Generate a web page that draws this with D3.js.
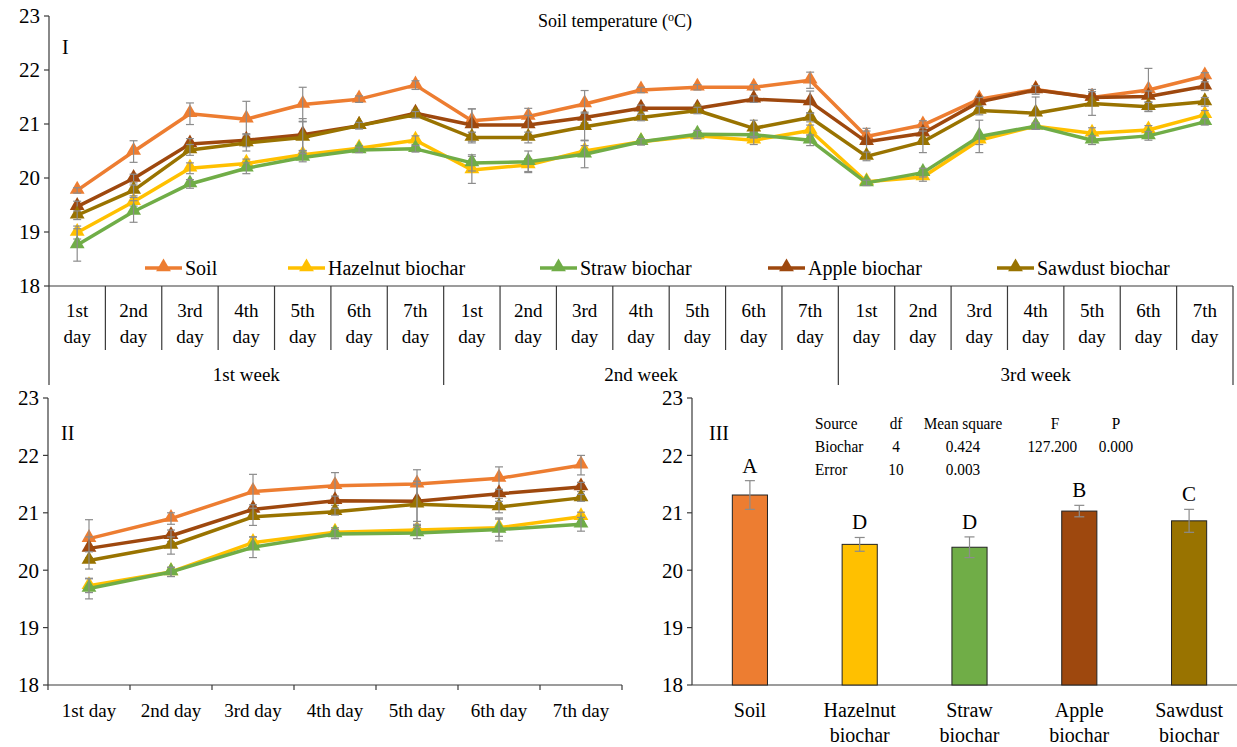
<!DOCTYPE html>
<html>
<head>
<meta charset="utf-8">
<script src="https://cdn.jsdelivr.net/npm/d3@7"></script>
<style>
  body { margin: 0; background: #fff; }
  svg text { font-family: "Liberation Serif", "Times New Roman", "DejaVu Serif", serif; }
</style>
</head>
<body>
<svg id="chart" width="1237" height="747" font-family="Liberation Serif, Times New Roman, serif"></svg>
<script>
// ---- data ----
const series = ["Soil", "Hazelnut biochar", "Straw biochar", "Apple biochar", "Sawdust biochar"];
const colors = ["#ED7D31", "#FFC000", "#70AD47", "#9E480E", "#997300"];
const days = ["1st day", "2nd day", "3rd day", "4th day", "5th day", "6th day", "7th day"];
const weeks = ["1st week", "2nd week", "3rd week"];

// panel I : 21 daily values (3 weeks x 7 days)
const soilDaily     = [19.77, 20.49, 21.19, 21.09, 21.36, 21.46, 21.72, 21.06, 21.14, 21.37, 21.63, 21.68, 21.68, 21.81, 20.77, 20.98, 21.46, 21.64, 21.49, 21.63, 21.89];
const hazelnutDaily = [18.99, 19.56, 20.18, 20.27, 20.43, 20.55, 20.70, 20.15, 20.24, 20.50, 20.67, 20.78, 20.70, 20.88, 19.93, 20.02, 20.70, 20.96, 20.83, 20.89, 21.17];
const strawDaily    = [18.76, 19.38, 19.89, 20.18, 20.38, 20.52, 20.54, 20.28, 20.30, 20.44, 20.67, 20.81, 20.80, 20.70, 19.91, 20.10, 20.77, 20.96, 20.70, 20.78, 21.04];
const appleDaily    = [19.47, 19.99, 20.63, 20.70, 20.80, 20.97, 21.20, 20.98, 20.98, 21.12, 21.29, 21.29, 21.46, 21.41, 20.67, 20.83, 21.41, 21.63, 21.49, 21.51, 21.70];
const sawdustDaily  = [19.31, 19.77, 20.52, 20.65, 20.75, 20.97, 21.17, 20.75, 20.75, 20.95, 21.12, 21.25, 20.92, 21.12, 20.40, 20.67, 21.25, 21.20, 21.38, 21.32, 21.41];

const soilDailyErr     = [0.05, 0.2, 0.2, 0.33, 0.32, 0.06, 0.08, 0.22, 0.15, 0.25, 0.05, 0.05, 0.05, 0.15, 0.15, 0.08, 0.05, 0.06, 0.08, 0.4, 0.06];
const hazelnutDailyErr = [0.12, 0.08, 0.1, 0.08, 0.08, 0.05, 0.08, 0.25, 0.12, 0.1, 0.05, 0.05, 0.08, 0.1, 0.05, 0.08, 0.08, 0.05, 0.1, 0.08, 0.08];
const strawDailyErr    = [0.3, 0.2, 0.08, 0.1, 0.08, 0.05, 0.06, 0.15, 0.2, 0.25, 0.06, 0.07, 0.06, 0.1, 0.05, 0.08, 0.3, 0.06, 0.08, 0.08, 0.06];
const appleDailyErr    = [0.1, 0.08, 0.1, 0.12, 0.3, 0.06, 0.06, 0.3, 0.18, 0.1, 0.06, 0.06, 0.06, 0.2, 0.2, 0.1, 0.08, 0.08, 0.15, 0.1, 0.08];
const sawdustDailyErr  = [0.08, 0.1, 0.1, 0.15, 0.3, 0.06, 0.06, 0.1, 0.1, 0.25, 0.06, 0.06, 0.15, 0.08, 0.08, 0.2, 0.08, 0.3, 0.22, 0.08, 0.08];

// panel II : mean of the three weeks per day
const soilMean     = [20.55, 20.90, 21.37, 21.47, 21.50, 21.60, 21.83];
const hazelnutMean = [19.73, 19.97, 20.48, 20.66, 20.70, 20.74, 20.93];
const strawMean    = [19.68, 19.97, 20.40, 20.63, 20.65, 20.71, 20.80];
const appleMean    = [20.38, 20.60, 21.06, 21.21, 21.20, 21.33, 21.45];
const sawdustMean  = [20.17, 20.43, 20.93, 21.02, 21.15, 21.10, 21.26];

const soilMeanErr     = [0.33, 0.1, 0.3, 0.23, 0.25, 0.2, 0.17];
const hazelnutMeanErr = [0.12, 0.08, 0.1, 0.08, 0.08, 0.15, 0.08];
const strawMeanErr    = [0.18, 0.08, 0.18, 0.08, 0.1, 0.2, 0.12];
const appleMeanErr    = [0.2, 0.1, 0.08, 0.08, 0.35, 0.08, 0.08];
const sawdustMeanErr  = [0.15, 0.15, 0.15, 0.06, 0.35, 0.1, 0.06];

// panel III : overall means
const barLabels = [["Soil"], ["Hazelnut", "biochar"], ["Straw", "biochar"], ["Apple", "biochar"], ["Sawdust", "biochar"]];
const barValues = [21.31, 20.45, 20.40, 21.03, 20.86];
const barErr    = [0.25, 0.12, 0.18, 0.10, 0.20];
const barLetters = ["A", "D", "D", "B", "C"];

const anovaHeader = ["Source", "df", "Mean square", "F", "P"];
const anovaRows = [["Biochar", "4", "0.424", "127.200", "0.000"], ["Error", "10", "0.003", "", ""]];

const yTicks = [18, 19, 20, 21, 22, 23];

const dailySets = [soilDaily, hazelnutDaily, strawDaily, appleDaily, sawdustDaily];
const dailyErrs = [soilDailyErr, hazelnutDailyErr, strawDailyErr, appleDailyErr, sawdustDailyErr];
const meanSets = [soilMean, hazelnutMean, strawMean, appleMean, sawdustMean];
const meanErrs = [soilMeanErr, hazelnutMeanErr, strawMeanErr, appleMeanErr, sawdustMeanErr];

const svg = d3.select("#chart");
const axisColor = "#3a3a3a";
const errColor = "#8c8c8c";
const FONT = "Liberation Serif";

function yAxis(g, y, x0) {
  g.append("line").attr("x1", x0).attr("x2", x0)
    .attr("y1", y(23)).attr("y2", y(18)).attr("stroke", axisColor).attr("stroke-width", 1.2);
  yTicks.forEach(t => {
    g.append("line").attr("x1", x0 - 5).attr("x2", x0).attr("y1", y(t)).attr("y2", y(t))
      .attr("stroke", axisColor).attr("stroke-width", 1.2);
    g.append("text").attr("x", x0 - 9).attr("y", y(t)).attr("dy", "0.35em")
      .attr("text-anchor", "end").attr("font-family", FONT).attr("font-size", 21).text(t);
  });
}

function drawSeries(g, x, y, sets, errs) {
  const tri = d3.symbol().type(d3.symbolTriangle).size(95);
  sets.forEach((vals, s) => {
    const pts = vals.map((v, i) => ({ i, v, e: errs[s][i] }));
    g.append("path").datum(pts)
      .attr("fill", "none").attr("stroke", colors[s]).attr("stroke-width", 3.5)
      .attr("stroke-linejoin", "round")
      .attr("d", d3.line().x(d => x(d.i)).y(d => y(d.v)));
    g.selectAll(null).data(pts).enter().append("path")
      .attr("d", tri).attr("fill", colors[s])
      .attr("transform", d => `translate(${x(d.i)},${y(d.v) - 1})`);
    const eb = g.selectAll(null).data(pts).enter().append("g")
      .attr("stroke", errColor).attr("stroke-width", 1.2);
    eb.append("line").attr("x1", d => x(d.i)).attr("x2", d => x(d.i))
      .attr("y1", d => y(d.v + d.e)).attr("y2", d => y(d.v - d.e));
    eb.append("line").attr("x1", d => x(d.i) - 4).attr("x2", d => x(d.i) + 4)
      .attr("y1", d => y(d.v + d.e)).attr("y2", d => y(d.v + d.e));
    eb.append("line").attr("x1", d => x(d.i) - 4).attr("x2", d => x(d.i) + 4)
      .attr("y1", d => y(d.v - d.e)).attr("y2", d => y(d.v - d.e));
  });
}

function txt(g, x, y, s, size, anchor) {
  return g.append("text").attr("x", x).attr("y", y).attr("text-anchor", anchor || "start")
    .attr("font-family", FONT).attr("font-size", size).text(s);
}

// ---------- Panel I ----------
const p1 = svg.append("g");
const x1 = d3.scaleBand().domain(d3.range(21)).range([49, 1233]);
const xc1 = i => x1(i) + x1.bandwidth() / 2;
const y1 = d3.scaleLinear().domain([18, 23]).range([286, 16]);

yAxis(p1, y1, 49);
p1.append("line").attr("x1", 49).attr("x2", 1233).attr("y1", y1(18)).attr("y2", y1(18))
  .attr("stroke", axisColor).attr("stroke-width", 1.2);

// multi-level category axis
d3.range(22).forEach(i => {
  const xx = i < 21 ? x1(i) : 1233;
  const isWeek = i % 7 === 0;
  p1.append("line").attr("x1", xx).attr("x2", xx).attr("y1", 286).attr("y2", isWeek ? 385 : 350)
    .attr("stroke", axisColor).attr("stroke-width", 1.2);
});
d3.range(21).forEach(i => {
  const parts = days[i % 7].split(" ");
  txt(p1, xc1(i), 317, parts[0], 19, "middle");
  txt(p1, xc1(i), 343, parts[1], 19, "middle");
});
weeks.forEach((w, k) => {
  const cx = (x1(k * 7) + x1(k * 7 + 6) + x1.bandwidth()) / 2;
  txt(p1, cx, 381, w, 19, "middle");
});

const title = txt(p1, 615, 27, "", 18, "middle");
title.append("tspan").text("Soil temperature (");
title.append("tspan").attr("font-size", 12).attr("dy", -6).text("o");
title.append("tspan").attr("dy", 6).text("C)");
txt(p1, 62, 54, "I", 20);

drawSeries(p1, xc1, y1, dailySets, dailyErrs);

// legend
const legX = [145, 288, 540, 768, 997];
const tri = d3.symbol().type(d3.symbolTriangle).size(95);
series.forEach((s, k) => {
  const lg = p1.append("g").attr("transform", `translate(${legX[k]},268)`);
  lg.append("line").attr("x1", 0).attr("x2", 37).attr("stroke", colors[k]).attr("stroke-width", 3.5);
  lg.append("path").attr("d", tri).attr("fill", colors[k]).attr("transform", "translate(18.5,-1)");
  txt(lg, 40, 0, s, 20).attr("dy", "0.35em");
});

// ---------- Panel II ----------
const p2 = svg.append("g");
const x2 = d3.scaleBand().domain(d3.range(7)).range([48, 622]);
const xc2 = i => x2(i) + x2.bandwidth() / 2;
const y2 = d3.scaleLinear().domain([18, 23]).range([685, 398]);

yAxis(p2, y2, 48);
p2.append("line").attr("x1", 48).attr("x2", 622).attr("y1", y2(18)).attr("y2", y2(18))
  .attr("stroke", axisColor).attr("stroke-width", 1.2);
d3.range(8).forEach(i => {
  const xx = i < 7 ? x2(i) : 622;
  p2.append("line").attr("x1", xx).attr("x2", xx).attr("y1", 685).attr("y2", 690)
    .attr("stroke", axisColor).attr("stroke-width", 1.2);
});
days.forEach((d, i) => txt(p2, xc2(i), 717, d, 19, "middle"));
txt(p2, 61, 440, "II", 20);

drawSeries(p2, xc2, y2, meanSets, meanErrs);

// ---------- Panel III ----------
const p3 = svg.append("g");
const x3 = d3.scaleBand().domain(d3.range(5)).range([695, 1244]).paddingInner(0.68).paddingOuter(0.34);
const y3 = y2;

yAxis(p3, y3, 692);
p3.append("line").attr("x1", 692).attr("x2", 1237).attr("y1", y3(18)).attr("y2", y3(18))
  .attr("stroke", axisColor).attr("stroke-width", 1.2);

p3.selectAll(null).data(barValues).enter().append("rect")
  .attr("x", (d, i) => x3(i)).attr("width", x3.bandwidth())
  .attr("y", d => y3(d)).attr("height", d => y3(18) - y3(d))
  .attr("fill", (d, i) => colors[i]).attr("stroke", "#222").attr("stroke-width", 1);

barValues.forEach((v, i) => {
  const cx = x3(i) + x3.bandwidth() / 2;
  const e = barErr[i];
  const g = p3.append("g").attr("stroke", errColor).attr("stroke-width", 1.2);
  g.append("line").attr("x1", cx).attr("x2", cx).attr("y1", y3(v + e)).attr("y2", y3(v - e));
  g.append("line").attr("x1", cx - 5).attr("x2", cx + 5).attr("y1", y3(v + e)).attr("y2", y3(v + e));
  g.append("line").attr("x1", cx - 5).attr("x2", cx + 5).attr("y1", y3(v - e)).attr("y2", y3(v - e));
  txt(p3, cx, y3(v + e) - 8, barLetters[i], 21, "middle");
  barLabels[i].forEach((t, j) => txt(p3, cx, 717 + j * 25, t, 20, "middle"));
});
txt(p3, 709, 440, "III", 20);

// ANOVA table
const colX = [815, 896, 963, 1055, 1116];
const colAnchor = ["start", "middle", "middle", "middle", "middle"];
[anovaHeader, ...anovaRows].forEach((row, r) => {
  row.forEach((cell, c) => {
    txt(p3, colX[c] + (r > 0 && c === 3 ? -3 : 0), 429 + r * 23, cell, 17, colAnchor[c])
      .attr("transform", `translate(${colX[c]},0) scale(0.9,1) translate(${-colX[c]},0)`);
  });
});
</script>
</body>
</html>
